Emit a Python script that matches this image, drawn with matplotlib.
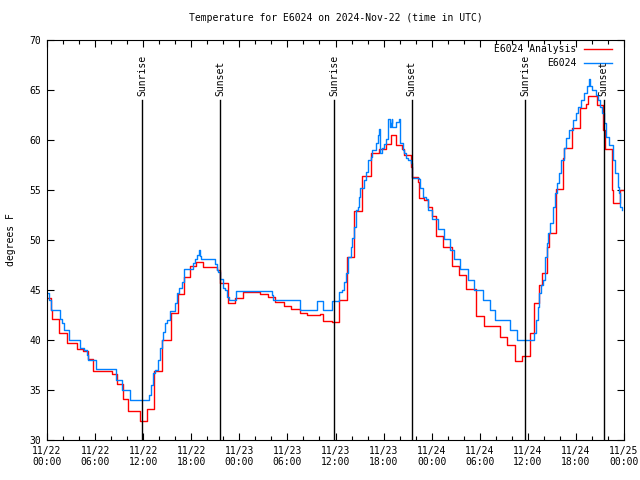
import numpy as np
import matplotlib
matplotlib.use("Agg")
import matplotlib.pyplot as plt

# hours since 2024-11-22 00:00 UTC
analysis_hours = [0.0, 0.5, 0.6, 1.5, 2.5, 3.7, 4.5, 5.1, 5.7, 8.1, 8.7, 9.5, 10.1,
                  11.6, 12.5, 13.4, 14.4, 15.5, 16.3, 17.1, 17.8, 18.6, 19.5, 21.2,
                  21.6, 22.6, 23.5, 24.5, 26.6, 27.6, 28.4, 29.6, 30.5, 31.6, 32.5,
                  34.1, 34.5, 35.6, 36.4, 37.4, 38.3, 39.3, 40.4, 41.4, 42.3, 42.9,
                  43.6, 44.3, 44.6, 45.4, 45.6, 46.3, 46.4, 47.1, 47.6, 48.0, 48.5,
                  49.4, 50.5, 51.4, 52.3, 53.5, 54.5, 56.5, 57.4, 58.4, 59.3, 60.3,
                  60.8, 61.4, 61.8, 62.4, 62.6, 63.5, 64.4, 64.5, 65.5, 66.5, 67.3,
                  67.5, 68.6, 69.4, 69.6, 70.5, 70.6, 71.5, 71.9]
analysis_temp = [44.2, 43.0, 42.1, 40.7, 39.7, 39.1, 38.9, 38.1, 36.9, 36.6, 35.6, 34.1, 32.9,
                 31.9, 33.1, 36.9, 40.0, 42.7, 44.6, 46.3, 47.4, 47.8, 47.3, 47.0,
                 45.7, 43.7, 44.2, 44.8, 44.6, 44.3, 43.8, 43.4, 43.1, 42.7, 42.5,
                 42.6, 41.9, 41.8, 44.0, 48.3, 52.9, 56.4, 58.7, 59.1, 59.6, 60.5,
                 59.5, 59.1, 58.5, 57.3, 56.3, 55.8, 54.2, 54.0, 53.3, 52.4, 50.4,
                 49.3, 47.4, 46.5, 45.1, 42.4, 41.4, 40.3, 39.5, 37.9, 38.4, 40.7,
                 43.7, 45.5, 46.7, 49.3, 50.7, 55.1, 58.2, 59.2, 61.2, 63.2, 63.6,
                 64.4, 63.5, 61.0, 59.1, 55.0, 53.7, 55.0, 55.0]

station_hours = [0.0, 0.25, 0.5, 1.6, 1.9, 2.1, 2.75, 4.1, 4.6, 5.0, 5.1, 6.1, 8.6, 9.4,
                 10.4, 12.75, 13.0, 13.25, 13.5, 13.9, 14.1, 14.4, 14.5, 14.75, 15.0,
                 15.4, 16.0, 16.25, 16.5, 16.9, 17.1, 18.25, 18.5, 18.75, 19.0, 19.1,
                 19.25, 21.0, 21.25, 21.4, 21.6, 21.9, 22.25, 22.5, 22.75, 23.6, 28.1,
                 28.25, 31.6, 33.75, 34.4, 35.6, 36.4, 36.75, 37.0, 37.25, 37.5, 37.6,
                 37.9, 38.1, 38.25, 38.5, 38.75, 38.9, 39.1, 39.5, 39.75, 40.0, 40.1,
                 40.4, 40.6, 41.0, 41.25, 41.4, 41.5, 41.75, 42.0, 42.25, 42.5, 42.6,
                 42.75, 42.9, 43.0, 43.1, 43.6, 43.9, 44.0, 44.1, 44.4, 44.6, 44.75,
                 45.0, 45.4, 45.5, 45.6, 46.4, 46.6, 46.9, 47.25, 47.5, 47.6, 48.1,
                 48.75, 49.5, 50.25, 50.75, 51.5, 52.5, 53.25, 54.4, 55.25, 55.9,
                 57.75, 58.6, 60.75, 61.0, 61.25, 61.4, 61.6, 61.9, 62.1, 62.4, 62.5,
                 62.75, 63.1, 63.4, 63.6, 63.9, 64.1, 64.5, 64.75, 65.1, 65.6, 66.0,
                 66.25, 66.6, 67.0, 67.4, 67.6, 67.75, 68.0, 68.5, 68.75, 69.0, 69.25,
                 69.5, 69.75, 70.1, 70.6, 70.9, 71.25, 71.4, 71.5, 71.75]
station_temp = [44.7, 44.0, 43.0, 42.1, 41.7, 41.0, 40.0, 39.2, 39.0, 38.5, 38.0, 37.1, 36.0, 35.0,
                34.0, 34.5, 35.5, 36.7, 37.0, 38.0, 39.2, 40.0, 40.8, 41.7, 42.0,
                42.9, 43.7, 44.7, 45.2, 45.8, 47.1, 47.7, 48.1, 48.5, 49.0, 48.4,
                48.1, 47.6, 47.0, 46.8, 46.1, 45.2, 45.0, 44.3, 44.0, 44.9, 44.5,
                44.0, 43.0, 43.9, 43.0, 43.9, 44.8, 45.0, 45.8, 46.7, 47.8, 48.3,
                49.3, 50.2, 51.3, 53.0, 53.3, 54.3, 55.2, 56.0, 56.8, 57.5, 58.0,
                58.3, 59.0, 59.7, 60.5, 61.1, 58.7, 59.2, 59.6, 60.1, 61.2, 62.1,
                61.3, 61.7, 62.1, 61.3, 61.8, 62.1, 61.0, 59.7, 59.0, 58.7, 58.2,
                58.0, 57.7, 56.8, 56.2, 56.1, 55.2, 54.3, 54.1, 53.5, 53.0, 52.1,
                51.1, 50.1, 49.0, 48.1, 47.1, 46.0, 45.0, 44.0, 43.0, 42.0,
                41.0, 40.0, 40.7, 42.0, 43.3, 44.7, 45.5, 46.0, 48.3, 49.7, 50.7,
                51.7, 53.3, 54.7, 55.7, 56.7, 58.0, 59.2, 60.2, 61.0, 62.0, 62.7,
                63.3, 64.0, 64.7, 65.4, 66.1, 65.4, 65.0, 64.5, 64.0, 63.3, 62.7,
                61.7, 60.3, 59.5, 58.0, 56.7, 55.3, 54.7, 53.3, 53.0]

sun_events = [11.85, 21.6, 35.8, 45.5, 59.7, 69.45]
sun_labels = ["Sunrise", "Sunset", "Sunrise", "Sunset", "Sunrise", "Sunset"]

tick_hours = np.arange(0, 73, 6)
tick_labels = ["11/22\n00:00", "11/22\n06:00", "11/22\n12:00", "11/22\n18:00",
               "11/23\n00:00", "11/23\n06:00", "11/23\n12:00", "11/23\n18:00",
               "11/24\n00:00", "11/24\n06:00", "11/24\n12:00", "11/24\n18:00",
               "11/25\n00:00"]

plt.rcParams['font.family'] = ['DejaVu Sans Mono']
plt.rcParams['font.size'] = 7

fig = plt.figure(figsize=(6.4, 4.8), dpi=100)
ax = fig.add_axes([47 / 640, 40 / 480, 577 / 640, 400 / 480])

ax.step(analysis_hours, analysis_temp, where='post', color='#ff0000', lw=1.0)
ax.step(station_hours, station_temp, where='post', color='#0080ff', lw=1.0)

for h, lab in zip(sun_events, sun_labels):
    ax.plot([h, h], [30, 64], color='black', lw=1.0)
    ax.text(h, 64.4, lab, rotation=90, ha='center', va='bottom', fontsize=7)

ax.set_xlim(0, 72)
ax.set_ylim(30, 70)
ax.set_xticks(tick_hours)
ax.set_xticklabels(tick_labels)
ax.set_xticks(np.arange(0, 73, 2), minor=True)
ax.set_yticks(np.arange(30, 71, 5))
ax.tick_params(which='both', direction='in', top=True, right=True, length=5, width=0.8, pad=4)
ax.tick_params(which='minor', length=3)
ax.set_ylabel("degrees F", labelpad=10)
ax.set_title("Temperature for E6024 on 2024-Nov-22 (time in UTC)", fontsize=7, pad=14)

# gnuplot style key: right-justified text, sample to the right
ax.text(0.917, 0.978, "E6024 Analysis", transform=ax.transAxes, ha='right', va='center', fontsize=7)
ax.plot([0.93, 0.98], [0.978, 0.978], transform=ax.transAxes, color='#ff0000', lw=1.0)
ax.text(0.917, 0.943, "E6024", transform=ax.transAxes, ha='right', va='center', fontsize=7)
ax.plot([0.93, 0.98], [0.943, 0.943], transform=ax.transAxes, color='#0080ff', lw=1.0)

fig.savefig("out.png", dpi=100)
